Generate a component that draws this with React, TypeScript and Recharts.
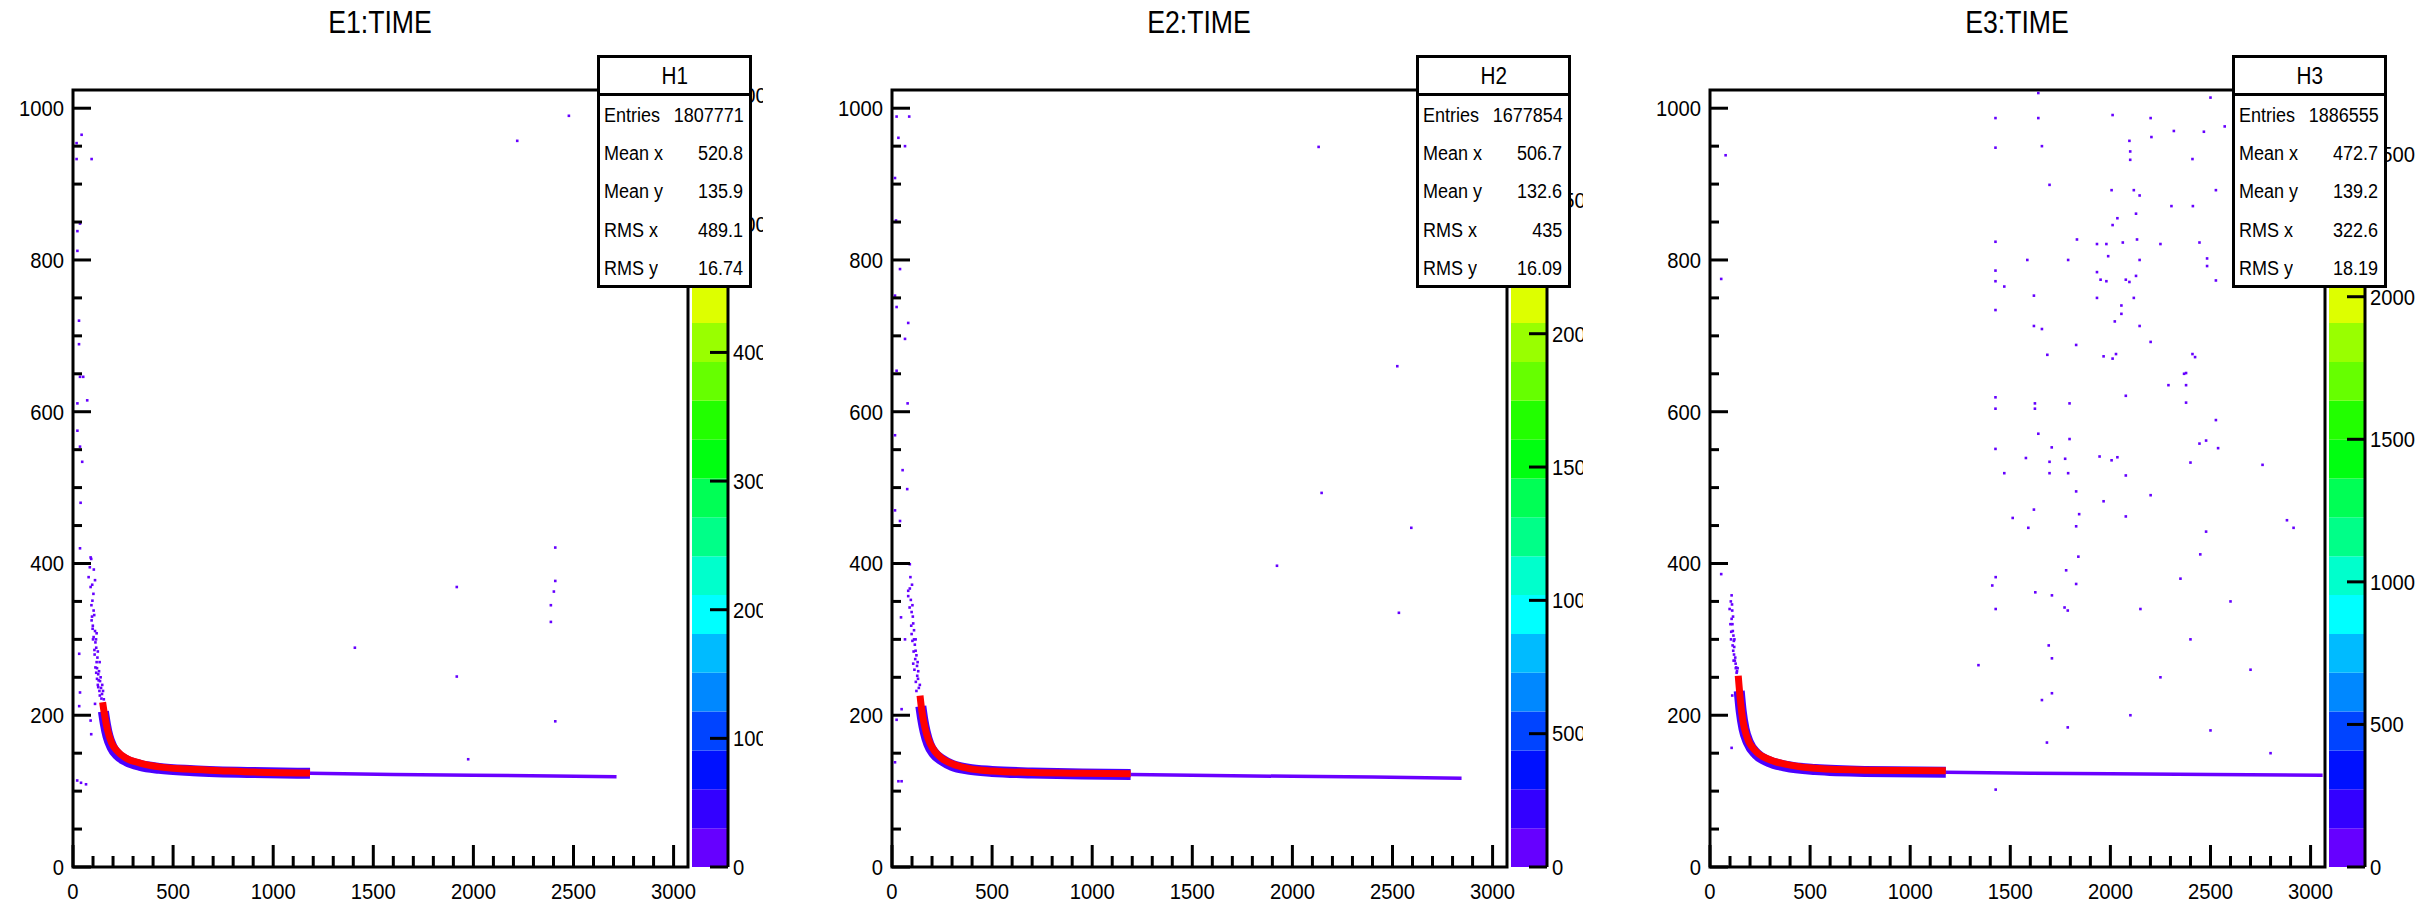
import React from 'react';
import { ComposedChart, BarChart, Bar, Line, Scatter, XAxis, YAxis, ReferenceArea } from 'recharts';

const FONT = "'Liberation Sans', Arial, Helvetica, sans-serif";

// axis ranges and ticks
const X_DOMAIN = [0, 3072];
const Y_DOMAIN = [0, 1024];
const X_LABELS = [0, 500, 1000, 1500, 2000, 2500, 3000];
const X_TICKS = [0, 100, 200, 300, 400, 500, 600, 700, 800, 900, 1000, 1100, 1200, 1300, 1400, 1500, 1600, 1700, 1800, 1900, 2000, 2100, 2200, 2300, 2400, 2500, 2600, 2700, 2800, 2900, 3000];
const Y_LABELS = [0, 200, 400, 600, 800, 1000];
const Y_TICKS = [0, 50, 100, 150, 200, 250, 300, 350, 400, 450, 500, 550, 600, 650, 700, 750, 800, 850, 900, 950, 1000];

// colour palette of the z axis, bottom to top
const PALETTE = ['#6600ff', '#3300ff', '#0011ff', '#0044ff', '#0088ff', '#00bbff', '#00ffff', '#00ffcc', '#00ff88', '#00ff55', '#00ff11', '#22ff00', '#66ff00', '#99ff00', '#ddff00', '#ffdd00', '#ffaa00', '#ff7700', '#ff4400', '#ff0000'];

// ---- E1 ----
const fit1 = [[148, 217], [160, 197], [173, 180], [192, 164], [220, 153], [268, 143], [335, 137], [430, 132], [563, 129], [733, 127], [924, 125], [1184, 124]];
const band1 = [[152, 205], [162, 188], [175, 172], [195, 158], [222, 148], [268, 140], [335, 134], [430, 130], [600, 127], [900, 124.5], [1184, 123.5]];
const tail1 = [[1184, 123.5], [1600, 122], [2000, 121], [2400, 120], [2715, 119]];
const dots1 = [[88, 408], [84, 395], [78, 382], [88, 369], [97, 351], [103, 338], [93, 325], [110, 311], [103, 303], [116, 289], [122, 276], [112, 263], [126, 254], [135, 245], [126, 237], [145, 228], [154, 221], [110, 215], [88, 193], [31, 281], [31, 212], [91, 175], [21, 114], [40, 111], [65, 109], [100, 300], [118, 270], [130, 258], [140, 236], [120, 248], [108, 280], [95, 330], [132, 232], [115, 300], [138, 250], [150, 232],
  [96, 372], [102, 360], [92, 345], [106, 332], [99, 318], [112, 296], [107, 286], [120, 262], [128, 246], [116, 256], [124, 240], [134, 226], [142, 222], [104, 392], [110, 378], [98, 314], [118, 308], [124, 284], [133, 270], [146, 240],
  [43, 965], [18, 954], [93, 933], [18, 933], [35, 848], [22, 838], [22, 812], [30, 720], [30, 689], [35, 646], [51, 646], [71, 615], [22, 611], [22, 575], [35, 554], [46, 534], [38, 480], [35, 420], [91, 406], [35, 230],
  [1408, 289], [1917, 369], [1917, 251], [2409, 421], [2409, 377], [2402, 363], [2387, 345], [2387, 323], [2409, 192], [1974, 142], [2219, 957], [2477, 990]];

// ---- E2 ----
const fit2 = [[140, 226], [148, 208], [158, 192], [172, 176], [190, 163], [215, 152], [250, 143], [300, 136], [380, 130], [500, 126.5], [700, 124.5], [950, 123.5], [1192, 123]];
const band2 = [[144, 212], [154, 194], [166, 178], [184, 162], [210, 150], [250, 141], [300, 134], [380, 129], [500, 126], [700, 124], [950, 122.5], [1192, 122]];
const tail2 = [[1192, 122], [1600, 120.5], [2000, 119.5], [2400, 118.5], [2845, 117]];
const dots2 = [[89, 367], [81, 357], [98, 336], [106, 321], [98, 307], [114, 293], [122, 279], [106, 268], [131, 258], [119, 244], [139, 240], [81, 364], [92, 382], [45, 329], [65, 300], [48, 208], [23, 194], [15, 138], [32, 113], [48, 113], [110, 300], [125, 265], [102, 345], [118, 285], [130, 248],
  [94, 352], [88, 342], [104, 330], [96, 318], [110, 312], [102, 298], [116, 274], [112, 260], [126, 252], [134, 236], [122, 232], [108, 284], [100, 372], [118, 300], [128, 270],
  [23, 989], [32, 961], [65, 950], [86, 989], [15, 908], [20, 852], [40, 788], [15, 753], [23, 738], [81, 717], [65, 696], [23, 654], [78, 611], [15, 569], [53, 523], [76, 498], [40, 456], [15, 470], [89, 399],
  [2131, 949], [2524, 660], [2594, 447], [2146, 493], [2532, 335], [1923, 397]];

// ---- E3 ----
const fit3 = [[141, 252], [152, 219], [164, 193], [185, 171], [227, 153], [293, 142], [376, 135.5], [525, 130], [773, 127.5], [1178, 126.7]];
const band3 = [[146, 232], [156, 205], [170, 182], [192, 164], [232, 149], [293, 139], [376, 133], [525, 128.5], [773, 126], [1178, 125]];
const tail3 = [[1178, 125], [1600, 123.5], [2000, 123], [2500, 122], [3060, 121]];
const dots3 = [[108, 358], [111, 338], [108, 327], [114, 311], [119, 298], [116, 285], [124, 272], [131, 263], [98, 340], [56, 386], [108, 157], [111, 226], [105, 300], [120, 280], [128, 268], [135, 258], [112, 320], [117, 305], [138, 262], [56, 775], [78, 938],
  [104, 350], [110, 346], [102, 320], [113, 292], [121, 290], [126, 276], [129, 262], [118, 272], [133, 256], [106, 310], [115, 330], [122, 300],
  [1427, 382], [1410, 371], [1427, 340], [1341, 266], [1625, 362], [1708, 358], [1692, 292], [1708, 275], [1708, 229], [1658, 220], [1683, 164], [1787, 184], [1779, 391], [1829, 373], [1771, 342], [1787, 338], [1427, 102],
  [1640, 1020], [1426, 987], [1640, 987], [2011, 991], [2201, 987], [2500, 1014], [2317, 970], [2467, 969], [2205, 962], [2095, 957], [1426, 948], [1658, 950], [2099, 943], [2099, 932], [2410, 933], [2571, 976],
  [1696, 899], [2006, 892], [2117, 892], [2146, 885], [2527, 892], [2305, 871], [2412, 871], [2128, 861], [2035, 855], [2011, 846], [1426, 824], [1833, 827], [1933, 821], [1980, 821], [2062, 823], [2133, 827], [2250, 821], [2445, 823],
  [1585, 800], [1789, 800], [1989, 805], [2146, 800], [2483, 802], [1426, 786], [1933, 784], [2128, 779], [2483, 792], [1426, 772], [1470, 765], [1951, 774], [1980, 772], [2077, 774], [2095, 771], [2527, 773], [1933, 750], [2117, 750],
  [1426, 734], [1618, 753], [2055, 740], [2055, 729], [1618, 713], [1658, 709], [2022, 719], [2146, 713], [2201, 692], [1829, 688], [1685, 675], [1966, 673], [2011, 670], [2028, 676], [2410, 676], [2423, 672], [2368, 650], [2378, 651],
  [2290, 635], [2378, 635], [2077, 621], [1426, 619], [1426, 604], [1623, 611], [1623, 604], [1796, 611], [2378, 612], [2527, 589], [1640, 571], [1796, 564], [1426, 551], [1707, 553], [2445, 558], [2478, 562], [2538, 552],
  [1946, 541], [2006, 536], [2035, 540], [1578, 539], [1696, 534], [1774, 538], [2400, 533], [2077, 516], [1470, 519], [1696, 519], [1789, 519], [2760, 530], [1829, 495], [2201, 490], [1966, 482], [1618, 471], [1844, 465], [2077, 462],
  [1512, 460], [1590, 447], [1829, 449], [2478, 442], [2882, 457], [2915, 447], [1840, 409], [2449, 412], [2400, 300], [2250, 250], [2600, 350], [2100, 200], [2500, 180], [2700, 260], [2350, 380], [2800, 150], [2150, 340]];

const PANELS = [
  { left: 0, width: 763, boxLeft: 597, title: 'E1:TIME', name: 'H1', fit: fit1, band: band1, tail: tail1, dots: dots1, zMax: 604, zTicks: [0, 100, 200, 300, 400, 500, 600],
    stats: [['Entries', '1807771'], ['Mean x', '520.8'], ['Mean y', '135.9'], ['RMS x', '489.1'], ['RMS y', '16.74']] },
  { left: 819, width: 764, boxLeft: 597, title: 'E2:TIME', name: 'H2', fit: fit2, band: band2, tail: tail2, dots: dots2, zMax: 2914, zTicks: [0, 500, 1000, 1500, 2000, 2500],
    stats: [['Entries', '1677854'], ['Mean x', '506.7'], ['Mean y', '132.6'], ['RMS x', '435'], ['RMS y', '16.09']] },
  { left: 1637, width: 792, boxLeft: 595, title: 'E3:TIME', name: 'H3', fit: fit3, band: band3, tail: tail3, dots: dots3, zMax: 2725, zTicks: [0, 500, 1000, 1500, 2000, 2500],
    stats: [['Entries', '1886555'], ['Mean x', '472.7'], ['Mean y', '139.2'], ['RMS x', '322.6'], ['RMS y', '18.19']] },
];

const toPts = (arr: number[][]) => arr.map(([x, y]) => ({ x, y }));

const XTick = (props: any) => {
  const { x, y, payload } = props;
  const v = payload.value as number;
  const major = X_LABELS.includes(v);
  return (
    <g>
      <line x1={x} y1={y} x2={x} y2={y - (major ? 22 : 11)} stroke="#000" strokeWidth={3} />
      {major && (
        <text transform={`translate(${x},${y + 24}) scale(0.92,1)`} textAnchor="middle" dominantBaseline="central" fontSize={22} fontFamily={FONT} fill="#000">{v}</text>
      )}
    </g>
  );
};

const YTick = (props: any) => {
  const { x, y, payload } = props;
  const v = payload.value as number;
  const major = Y_LABELS.includes(v);
  return (
    <g>
      <line x1={x} y1={y} x2={x + (major ? 18 : 9)} y2={y} stroke="#000" strokeWidth={3} />
      {major && (
        <text transform={`translate(${x - 9},${y}) scale(0.92,1)`} textAnchor="end" dominantBaseline="central" fontSize={22} fontFamily={FONT} fill="#000">{v}</text>
      )}
    </g>
  );
};

const ZTick = (props: any) => {
  const { x, y, payload } = props;
  return (
    <g>
      <line x1={x} y1={y} x2={x - 18} y2={y} stroke="#000" strokeWidth={3} />
      <text transform={`translate(${x + 5},${y}) scale(0.92,1)`} textAnchor="start" dominantBaseline="central" fontSize={22} fontFamily={FONT} fill="#000">{payload.value}</text>
    </g>
  );
};

const Cell2D = (color: string) => (p: any) => (
  <rect x={p.cx - 1.3} y={p.cy - 1.3} width={2.6} height={2.6} fill={color} />
);

const Panel: React.FC<{ cfg: typeof PANELS[number] }> = ({ cfg }) => {
  // one stacked column, one segment per contour level
  const zRow: Record<string, number | string> = { name: 'z' };
  PALETTE.forEach((_, i) => { zRow[`b${i}`] = cfg.zMax / PALETTE.length; });

  return (
    <div style={{ position: 'absolute', left: cfg.left, top: 0, width: cfg.width, height: 903, overflow: 'hidden' }}>
      <div style={{ position: 'absolute', left: 0, top: 4, width: 760, textAlign: 'center', fontFamily: FONT, fontSize: 31, lineHeight: '38px', transform: 'scaleX(0.86)' }}>
        {cfg.title}
      </div>

      <div style={{ position: 'absolute', left: 0, top: 0 }}>
        <ComposedChart width={700} height={903} margin={{ top: 90, right: 12, bottom: 6, left: 13 }}>
          <XAxis type="number" dataKey="x" domain={X_DOMAIN} ticks={X_TICKS} interval={0} allowDataOverflow
            axisLine={false} tickLine={false} tickSize={0} tickMargin={0} height={30} tick={<XTick />} />
          <YAxis type="number" dataKey="y" domain={Y_DOMAIN} ticks={Y_TICKS} interval={0} allowDataOverflow
            axisLine={false} tickLine={false} tickSize={0} tickMargin={0} width={60} tick={<YTick />} />
          <Scatter data={toPts(cfg.dots)} fill="#6600ff" shape={Cell2D('#6600ff')} isAnimationActive={false} />
          <Line data={toPts(cfg.tail)} dataKey="y" type="linear" stroke="#6a00ff" strokeWidth={3.5} dot={false} isAnimationActive={false} />
          <Line data={toPts(cfg.band)} dataKey="y" type="monotone" stroke="#4a00ff" strokeWidth={11} dot={false} isAnimationActive={false} />
          <Line data={toPts(cfg.fit)} dataKey="y" type="monotone" stroke="#ff0000" strokeWidth={7} dot={false} isAnimationActive={false} />
          <ReferenceArea x1={X_DOMAIN[0]} x2={X_DOMAIN[1]} y1={Y_DOMAIN[0]} y2={Y_DOMAIN[1]} fill="none" stroke="#000" strokeWidth={3} />
        </ComposedChart>
      </div>

      <div style={{ position: 'absolute', left: 692, top: 0 }}>
        <BarChart width={106} height={903} data={[zRow]} margin={{ top: 90, right: 0, bottom: 36, left: 0 }} barCategoryGap={0}>
          <XAxis type="category" dataKey="name" hide />
          <YAxis type="number" orientation="right" domain={[0, cfg.zMax]} ticks={cfg.zTicks} interval={0} allowDataOverflow
            axisLine={{ stroke: '#000', strokeWidth: 3 }} tickLine={false} tickSize={0} tickMargin={0} width={70} tick={<ZTick />} />
          {PALETTE.map((c, i) => (
            <Bar key={i} dataKey={`b${i}`} stackId="z" fill={c} isAnimationActive={false} />
          ))}
        </BarChart>
      </div>

      <div style={{ position: 'absolute', left: cfg.boxLeft, top: 55, width: 155, height: 233, boxSizing: 'border-box', border: '3px solid #000', background: '#fff', fontFamily: FONT }}>
        <div style={{ height: 35, borderBottom: '3px solid #000', textAlign: 'center', fontSize: 23, lineHeight: '36px' }}>
          <span style={{ display: 'inline-block', transform: 'scaleX(0.9)' }}>{cfg.name}</span>
        </div>
        {cfg.stats.map(([k, v]) => (
          <div key={k} style={{ height: 38.4, display: 'flex', justifyContent: 'space-between', alignItems: 'center', padding: '0 6px 0 4px', fontSize: 20 }}>
            <span style={{ display: 'inline-block', transform: 'scaleX(0.9)', transformOrigin: 'left center' }}>{k}</span>
            <span style={{ display: 'inline-block', transform: 'scaleX(0.9)', transformOrigin: 'right center' }}>{v}</span>
          </div>
        ))}
      </div>
    </div>
  );
};

export default function App() {
  return (
    <div style={{ position: 'absolute', left: 0, top: 0, width: 2429, height: 903, background: '#fff', overflow: 'hidden' }}>
      {PANELS.map((p) => (
        <Panel key={p.name} cfg={p} />
      ))}
    </div>
  );
}
